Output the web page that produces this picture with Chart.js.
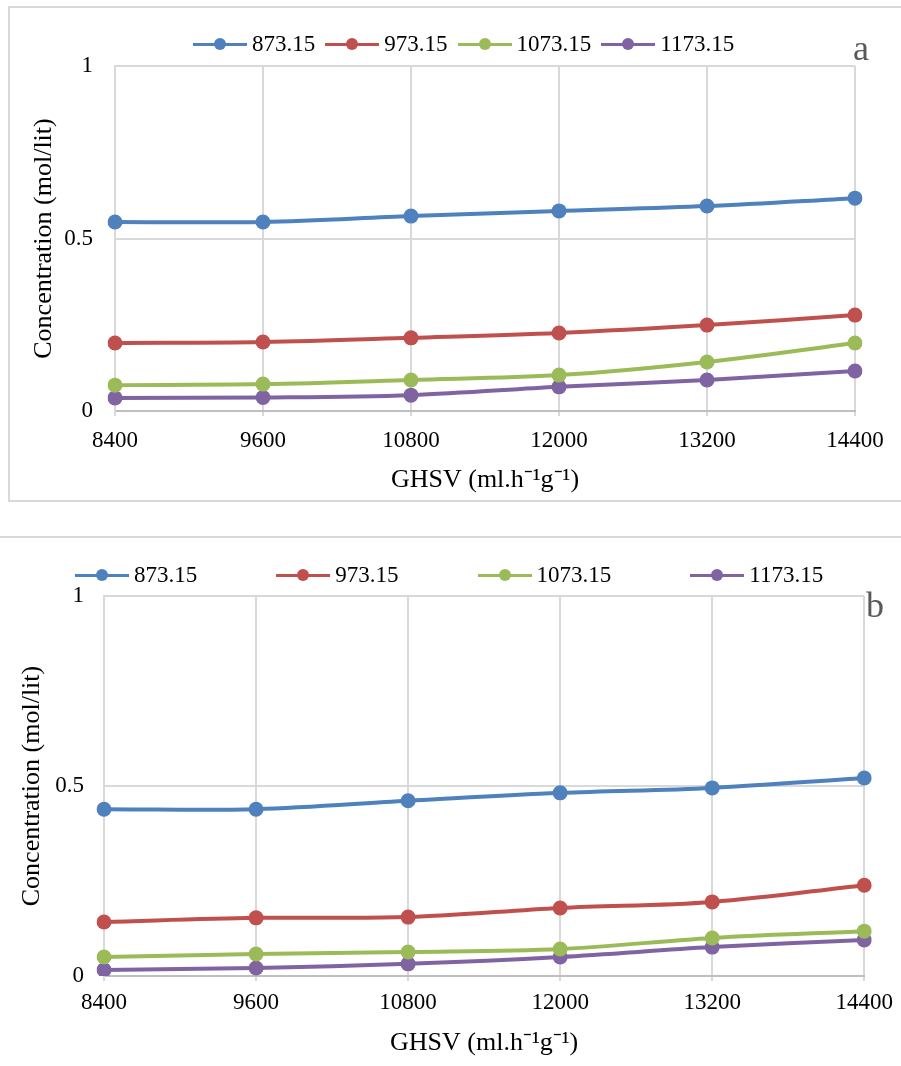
<!DOCTYPE html>
<html>
<head>
<meta charset="utf-8">
<script src="https://cdn.jsdelivr.net/npm/chart.js@4.4.1/dist/chart.umd.min.js"></script>
<style>
  body { margin: 0; background: #fff; width: 901px; height: 1066px; position: relative; overflow: hidden;
         font-family: "Liberation Serif", "Times New Roman", serif; }
  canvas { position: absolute; left: 0; }
  #boxA { position: absolute; left: 8px; top: 6px; width: 1000px; height: 496px; border: 2px solid #D9D9D9; box-sizing: border-box; }
  #lineB { position: absolute; left: 0; top: 536px; width: 901px; height: 2px; background: #D9D9D9; }
  .legend { position: absolute; display: flex; align-items: center; height: 28px; font-size: 23px; color: #000; white-space: nowrap; }
  .item { display: flex; align-items: center; }
  .mark { position: relative; width: 54px; height: 14px; margin-right: 5px; }
  .mark i { position: absolute; left: 0; top: 5.5px; width: 54px; height: 3px; }
  .mark b { position: absolute; left: 21px; top: 1px; width: 12px; height: 12px; border-radius: 50%; }
  .tag { position: absolute; font-size: 36px; color: #595959; line-height: 1; }
</style>
</head>
<body>
<div id="boxA"></div>
<div id="lineB"></div>
<canvas id="chartA" width="901" height="520" style="top:0;width:901px;height:520px"></canvas>
<canvas id="chartB" width="901" height="536" style="top:530px;width:901px;height:536px"></canvas>
<div class="legend" id="legendA" style="left:193px;top:30px;gap:10px"></div>
<div class="legend" id="legendB" style="left:75px;top:561px;gap:79px"></div>
<div class="tag" style="left:853px;top:30px">a</div>
<div class="tag" style="left:866px;top:587px">b</div>
<script>
// Categories (GHSV) and series names (temperatures, K)
const ghsv = ['8400', '9600', '10800', '12000', '13200', '14400'];
const temps = ['873.15', '973.15', '1073.15', '1173.15'];
const colors = ['#4F81BD', '#C0504D', '#9BBB59', '#8064A2'];
const yTicks = [0, 0.5, 1];

// Panel a values (mol/lit)
const a873 = [0.548, 0.548, 0.565, 0.580, 0.594, 0.617];
const a973 = [0.197, 0.200, 0.212, 0.226, 0.249, 0.278];
const a1073 = [0.075, 0.078, 0.090, 0.104, 0.142, 0.197];
const a1173 = [0.038, 0.039, 0.046, 0.070, 0.090, 0.116];

// Panel b values (mol/lit)
const b873 = [0.439, 0.439, 0.461, 0.482, 0.495, 0.521];
const b973 = [0.142, 0.153, 0.155, 0.179, 0.195, 0.239];
const b1073 = [0.050, 0.058, 0.063, 0.071, 0.100, 0.118];
const b1173 = [0.016, 0.021, 0.032, 0.050, 0.076, 0.095];

const FONT = "'Liberation Serif', 'Times New Roman', serif";
const GRID = '#D9D9D9';

// Build an html legend: line with a dot, then the label
function buildLegend(id) {
  const box = document.getElementById(id);
  temps.forEach((t, i) => {
    const item = document.createElement('div');
    item.className = 'item';
    item.innerHTML = `<span class="mark"><i style="background:${colors[i]}"></i><b style="background:${colors[i]}"></b></span><span>${t}</span>`;
    box.appendChild(item);
  });
}

// One line chart; layout numbers place the plot area
function makeChart(id, series, lay) {
  const ctx = document.getElementById(id).getContext('2d');
  return new Chart(ctx, {
    type: 'line',
    data: {
      labels: ghsv,
      datasets: series.map((vals, i) => ({
        label: temps[i],
        data: vals,
        borderColor: colors[i],
        backgroundColor: colors[i],
        borderWidth: 4,
        pointRadius: 7.5,
        pointHoverRadius: 7.5,
        pointBorderWidth: 0,
        tension: 0.35,
        fill: false
      }))
    },
    options: {
      responsive: false,
      animation: false,
      layout: { padding: { left: lay.padLeft, top: lay.padTop, right: lay.padRight, bottom: 0 } },
      plugins: { legend: { display: false }, tooltip: { enabled: false } },
      scales: {
        x: {
          type: 'category',
          offset: false,
          afterFit: s => { s.height = lay.xHeight; },
          grid: { color: GRID, lineWidth: 2, offset: false, drawTicks: true, tickLength: 5 },
          border: { color: '#BFBFBF', width: 2 },
          ticks: { color: '#000', font: { family: FONT, size: 23 }, padding: lay.xTickPad, maxRotation: 0, autoSkip: false },
          title: {
            display: true,
            text: 'GHSV (ml.h\u207B\u00B9g\u207B\u00B9)',
            color: '#000',
            font: { family: FONT, size: 26 },
            padding: { top: 0, bottom: lay.xTitlePad }
          }
        },
        y: {
          min: 0,
          max: 1,
          afterFit: s => { s.width = lay.yWidth; },
          afterBuildTicks: s => { s.ticks = yTicks.map(v => ({ value: v })); },
          grid: { color: GRID, lineWidth: 2, drawTicks: false },
          border: { color: GRID, width: 2 },
          ticks: { color: '#000', font: { family: FONT, size: 23 }, padding: lay.yTickPad, callback: v => String(v) },
          title: {
            display: true,
            text: 'Concentration (mol/lit)',
            color: '#000',
            font: { family: FONT, size: 26 },
            padding: { top: lay.yTitlePad, bottom: 0 }
          }
        }
      }
    }
  });
}

buildLegend('legendA');
buildLegend('legendB');

// Panel a: plot 115..855 x 66..411
makeChart('chartA', [a873, a973, a1073, a1173], {
  padLeft: 20, padTop: 66, padRight: 46,
  xHeight: 109, xTickPad: 11, xTitlePad: 24,
  yWidth: 95, yTickPad: 22, yTitlePad: 9
});

// Panel b: plot 104..865 x 596..976 (canvas starts at 530)
makeChart('chartB', [b873, b973, b1073, b1173], {
  padLeft: 0, padTop: 66, padRight: 36,
  xHeight: 90, xTickPad: 8, xTitlePad: 7,
  yWidth: 104, yTickPad: 20, yTitlePad: 17
});
</script>
</body>
</html>
